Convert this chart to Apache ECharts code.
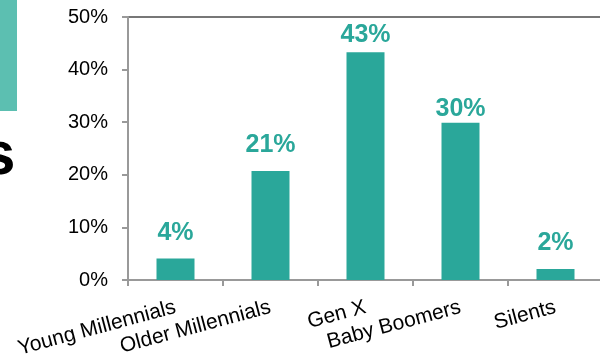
<!DOCTYPE html>
<html>
<head>
<meta charset="utf-8">
<script src="https://cdn.jsdelivr.net/npm/echarts@6/dist/echarts.min.js"></script>
<style>
html,body{margin:0;padding:0;background:#fff;}
#c{width:600px;height:357px;}
</style>
</head>
<body>
<div id="c"></div>
<script>
const categories = ['Young Millennials', 'Older Millennials', 'Gen X', 'Baby Boomers', 'Silents'];
const shares = [4.1, 20.7, 43.3, 29.9, 2.1];
const shareLabels = ['4%', '21%', '43%', '30%', '2%'];
const yTicks = [0, 10, 20, 30, 40, 50];

// label offsets above each bar as placed in the original slide
const labelGap = [13, 14, 5, 1, 13];

const chart = echarts.init(document.getElementById('c'), null, {renderer: 'canvas'});
chart.setOption({
  animation: false,
  backgroundColor: '#fff',
  graphic: [
    {type: 'rect', left: 0, top: 0, shape: {width: 17, height: 111}, style: {fill: '#5cbfb1'}},
    {type: 'text', left: -19, top: 126, style: {text: 's', font: 'bold 62px "Liberation Sans", Arial, sans-serif', fill: '#000'}}
  ],
  grid: {left: 128, top: 17, right: -3, bottom: 77, containLabel: false, outerBoundsMode: 'none', show: true, borderColor: '#777', borderWidth: 2, backgroundColor: 'transparent'},
  xAxis: {
    type: 'category',
    data: categories,
    axisLine: {lineStyle: {color: '#999', width: 2}},
    axisTick: {show: true, length: 6, lineStyle: {color: '#999', width: 2}},
    axisLabel: {rotate: 15, margin: 27, color: '#000', fontSize: 21, fontFamily: '"Liberation Sans", Arial, sans-serif', interval: 0}
  },
  yAxis: {
    type: 'value',
    min: yTicks[0], max: yTicks[yTicks.length - 1], interval: 10,
    axisLine: {show: true, lineStyle: {color: '#999', width: 2}},
    axisTick: {show: true, length: 6, lineStyle: {color: '#999', width: 2}},
    splitLine: {show: false},
    axisLabel: {formatter: '{value}%', margin: 20, color: '#000', fontSize: 20, fontFamily: '"Liberation Sans", Arial, sans-serif'}
  },
  series: [{
    type: 'bar',
    data: shares.map((v, i) => ({value: v, label: {distance: labelGap[i]}})),
    barWidth: 38,
    itemStyle: {color: '#2aa79a'},
    label: {
      show: true, position: 'top', distance: 10,
      formatter: p => shareLabels[p.dataIndex],
      color: '#2aa79a', fontSize: 25, fontWeight: 'bold',
      fontFamily: '"Liberation Sans", Arial, sans-serif'
    }
  }]
});
</script>
</body>
</html>
